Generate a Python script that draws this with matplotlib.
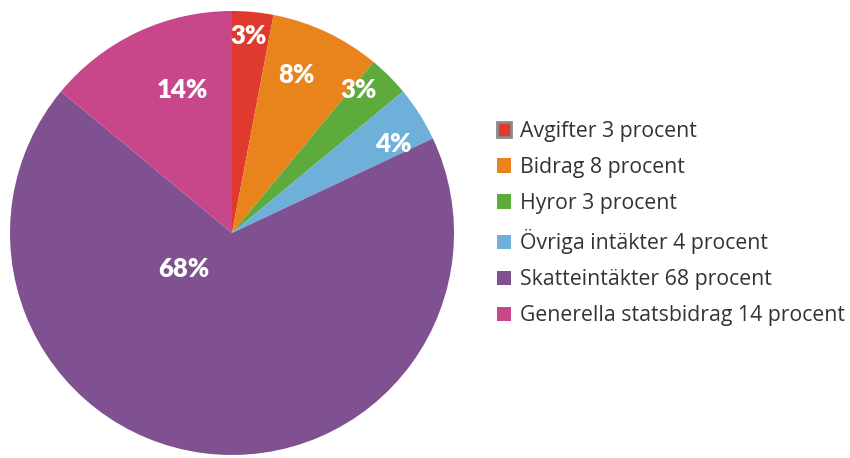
import numpy as np
import matplotlib
matplotlib.use("Agg")
import matplotlib.pyplot as plt
from matplotlib.patches import Patch

# data
categories = ["Avgifter", "Bidrag", "Hyror", "Övriga intäkter", "Skatteintäkter", "Generella statsbidrag"]
shares     = [3, 8, 3, 4, 68, 14]
colors     = ["#e03a2e", "#e8841b", "#5dab3c", "#6eb0da", "#7f5190", "#c8478b"]
legend_labels = [f"{c} {v} procent" for c, v in zip(categories, shares)]

# label placement: (radius fraction, angle shift in degrees from wedge middle)
label_place = [(0.89, 0.5), (0.77, 3), (0.86, 3.5), (0.83, -3.5), (0.27, -46), (0.68, -6)]

plt.rcParams["font.family"] = ["Open Sans", "DejaVu Sans"]

fig = plt.figure(figsize=(8.5, 4.58), dpi=100)
ax = fig.add_axes([10 / 850, 3 / 458, 444 / 850, 444 / 458])

wedges, _ = ax.pie(shares, colors=colors, startangle=90, counterclock=False,
                   radius=1.0, wedgeprops=dict(linewidth=0))
ax.set_xlim(-1, 1)
ax.set_ylim(-1, 1)
ax.axis("off")

for w, v, (r, da) in zip(wedges, shares, label_place):
    mid = np.deg2rad((w.theta1 + w.theta2) / 2 + da)
    ax.text(r * np.cos(mid), r * np.sin(mid), f"{v}%", color="white", family=["Lato", "DejaVu Sans"],
            fontsize=18.5, fontweight="heavy", ha="center", va="center")

handles = [Patch(facecolor=c, edgecolor="none") for c in colors]
handles[0] = Patch(facecolor=colors[0], edgecolor="#8a8a8a", linewidth=2)
fig.legend(handles, legend_labels, loc="upper left", bbox_to_anchor=(497 / 850, 1 - 121 / 458),
           frameon=False, fontsize=15.3, handlelength=0.68, handleheight=0.68,
           handletextpad=0.42, labelspacing=0.71, labelcolor="#333333",
           borderpad=0, borderaxespad=0)

fig.savefig("out.png", dpi=100)
